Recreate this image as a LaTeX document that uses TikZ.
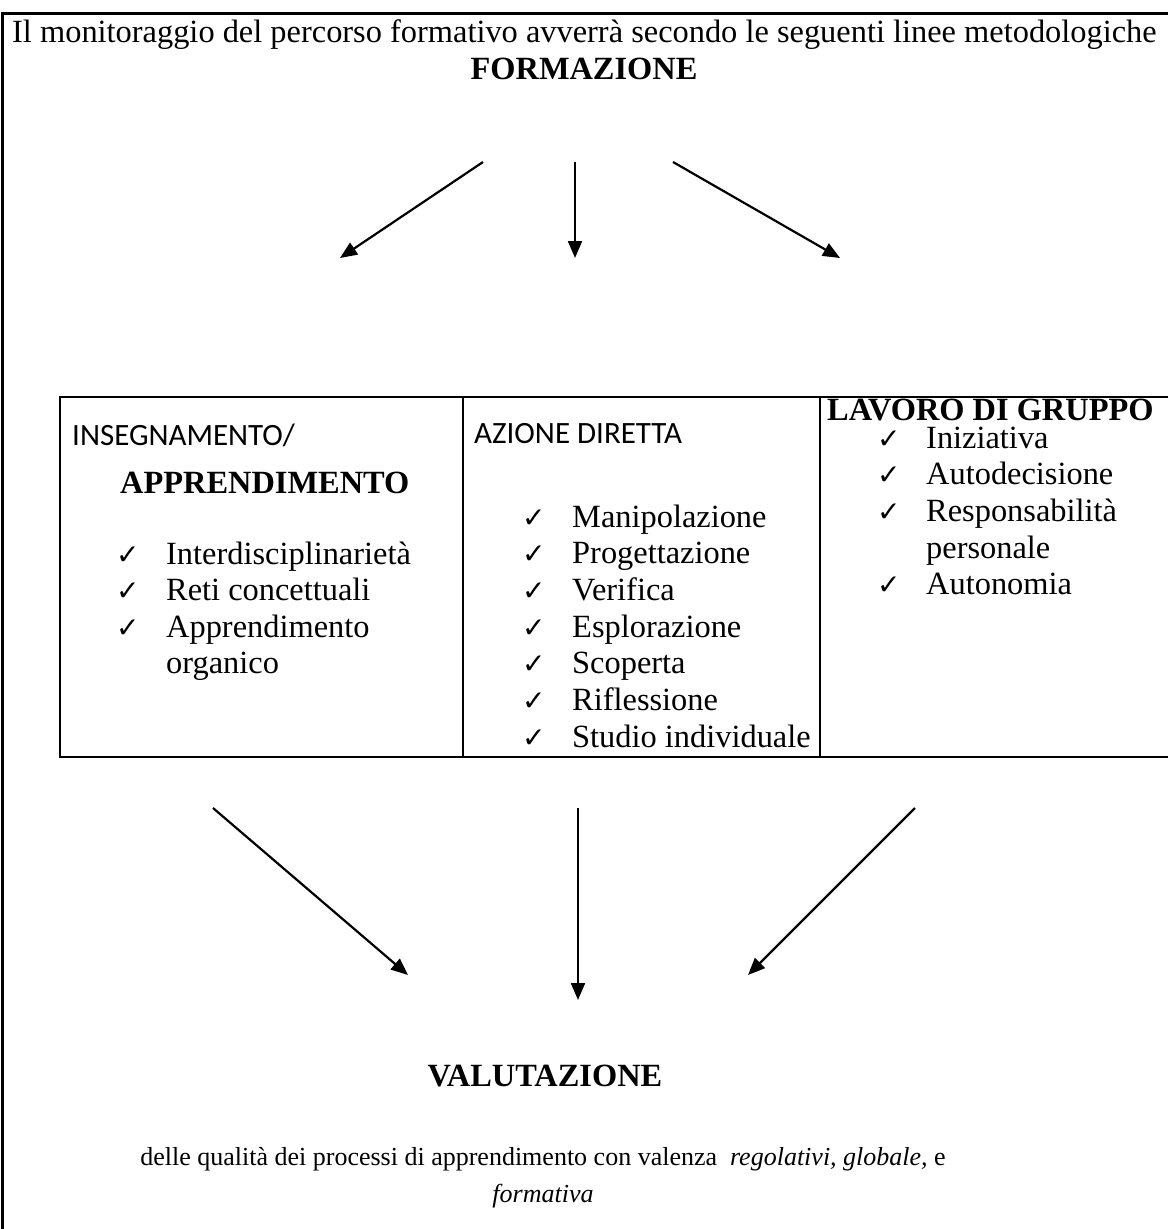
\documentclass[tikz,border=0pt]{standalone}
\usepackage{fontspec}
\setmainfont{Liberation Serif}
\newfontfamily\calib{Carlito}
\newfontfamily\dejavu{DejaVu Sans}
\usetikzlibrary{arrows.meta}
\tikzset{
  txt/.style={inner sep=0pt, font=\fontsize{32.4}{37}\selectfont},
  hd/.style={inner sep=0pt, font=\fontsize{32.4}{37}\selectfont\bfseries},
  sans/.style={inner sep=0pt, font=\fontsize{31}{37}\selectfont\calib},
  chk/.style={inner sep=0pt, font=\fontsize{28}{30}\selectfont\dejavu},
  small/.style={inner sep=0pt, font=\fontsize{26}{31}\selectfont},
  arr/.style={line width=2.2pt, -{Triangle[length=17pt,width=14pt]}},
  frameline/.style={line width=3pt},
  gridline/.style={line width=2.4pt}
}
\begin{document}
\begin{tikzpicture}[x=1pt,y=-1pt]
\useasboundingbox (0,0) rectangle (1168,1229);
% outer frame
\draw[frameline] (2,1229) -- (2,13) -- (1168,13);
% title
\node[txt, anchor=base west] (title) at (12,42) {Il monitoraggio del percorso formativo avverrà secondo le seguenti linee metodologiche};
\node[hd, anchor=base] (formazione) at (584,79) {FORMAZIONE};
% top arrows
\coordinate (t1s) at (483,162); \coordinate (t1e) at (340,258);
\coordinate (t2s) at (575,162); \coordinate (t2e) at (575,258);
\coordinate (t3s) at (673,162); \coordinate (t3e) at (840,258);
\draw[arr] (t1s) -- (t1e);
\draw[arr] (t2s) -- (t2e);
\draw[arr] (t3s) -- (t3e);
% table
\draw[gridline] (1168,397) -- (60,397) -- (60,757) -- (1168,757);
\draw[gridline] (463,397) -- (463,757);
\draw[gridline] (820,397) -- (820,757);
% column 1
\node[sans, anchor=base west] (c1h) at (72,445) {INSEGNAMENTO/};
\node[hd, anchor=base west] (c1b) at (120,493) {APPRENDIMENTO};
\node[chk, anchor=base west] (k11) at (116,564) {✓};
\node[txt, anchor=base west] (i11) at (166,564) {Interdisciplinarietà};
\node[chk, anchor=base west] (k12) at (116,600.5) {✓};
\node[txt, anchor=base west] (i12) at (166,600.5) {Reti concettuali};
\node[chk, anchor=base west] (k13) at (116,637) {✓};
\node[txt, anchor=base west] (i13) at (166,637) {Apprendimento};
\node[txt, anchor=base west] (i14) at (166,673.5) {organico};
% column 2
\node[sans, anchor=base west] (c2h) at (474,443) {AZIONE DIRETTA};
\node[chk, anchor=base west] (k21) at (522,527) {✓};
\node[txt, anchor=base west] (i21) at (572,527) {Manipolazione};
\node[chk, anchor=base west] (k22) at (522,563.7) {✓};
\node[txt, anchor=base west] (i22) at (572,563.7) {Progettazione};
\node[chk, anchor=base west] (k23) at (522,600.4) {✓};
\node[txt, anchor=base west] (i23) at (572,600.4) {Verifica};
\node[chk, anchor=base west] (k24) at (522,637.1) {✓};
\node[txt, anchor=base west] (i24) at (572,637.1) {Esplorazione};
\node[chk, anchor=base west] (k25) at (522,673.8) {✓};
\node[txt, anchor=base west] (i25) at (572,673.8) {Scoperta};
\node[chk, anchor=base west] (k26) at (522,710.5) {✓};
\node[txt, anchor=base west] (i26) at (572,710.5) {Riflessione};
\node[chk, anchor=base west] (k27) at (522,747.2) {✓};
\node[txt, anchor=base west] (i27) at (572,747.2) {Studio individuale};
% column 3
\node[hd, anchor=base west] (c3h) at (827,420) {LAVORO DI GRUPPO};
\node[chk, anchor=base west] (k31) at (877,448) {✓};
\node[txt, anchor=base west] (i31) at (926,448) {Iniziativa};
\node[chk, anchor=base west] (k32) at (877,484.7) {✓};
\node[txt, anchor=base west] (i32) at (926,484.7) {Autodecisione};
\node[chk, anchor=base west] (k33) at (877,521.4) {✓};
\node[txt, anchor=base west] (i33) at (926,521.4) {Responsabilità};
\node[txt, anchor=base west] (i34) at (926,558.1) {personale};
\node[chk, anchor=base west] (k35) at (877,594.8) {✓};
\node[txt, anchor=base west] (i35) at (926,594.8) {Autonomia};
% bottom arrows
\coordinate (b1s) at (213,808); \coordinate (b1e) at (408,975);
\coordinate (b2s) at (578,808); \coordinate (b2e) at (578,1000);
\coordinate (b3s) at (915,808); \coordinate (b3e) at (748,975);
\draw[arr] (b1s) -- (b1e);
\draw[arr] (b2s) -- (b2e);
\draw[arr] (b3s) -- (b3e);
% valutazione
\node[hd, anchor=base] (valut) at (545,1086) {VALUTAZIONE};
\node[small, anchor=base] (desc1) at (543,1165) {delle qualità dei processi di apprendimento con valenza\ \ \textit{regolativi, globale,} e};
\node[small, anchor=base] (desc2) at (543,1202) {\textit{formativa}};
\end{tikzpicture}
\end{document}
